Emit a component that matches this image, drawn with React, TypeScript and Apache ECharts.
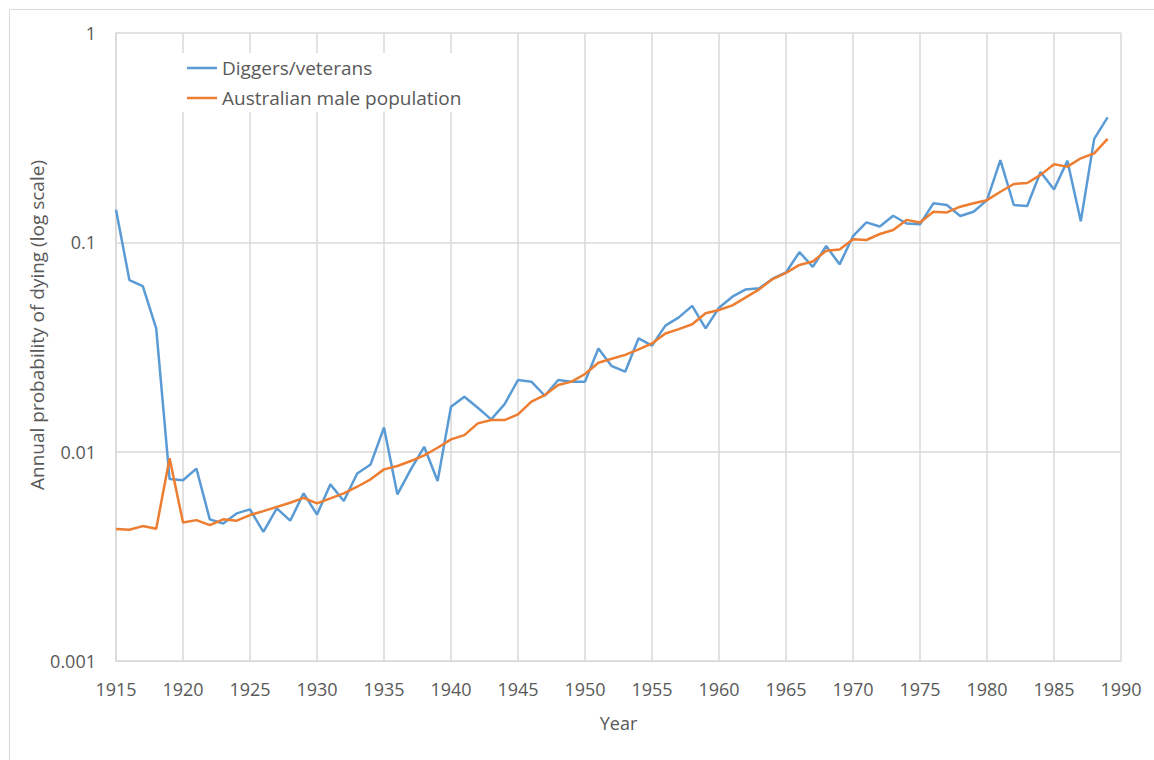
import React, { useEffect, useRef } from "react";
import * as echarts from "echarts";

const years = [
  1915, 1916, 1917, 1918, 1919, 1920, 1921, 1922, 1923, 1924,
  1925, 1926, 1927, 1928, 1929, 1930, 1931, 1932, 1933, 1934,
  1935, 1936, 1937, 1938, 1939, 1940, 1941, 1942, 1943, 1944,
  1945, 1946, 1947, 1948, 1949, 1950, 1951, 1952, 1953, 1954,
  1955, 1956, 1957, 1958, 1959, 1960, 1961, 1962, 1963, 1964,
  1965, 1966, 1967, 1968, 1969, 1970, 1971, 1972, 1973, 1974,
  1975, 1976, 1977, 1978, 1979, 1980, 1981, 1982, 1983, 1984,
  1985, 1986, 1987, 1988, 1989,
];

const diggers = [
  0.143, 0.066, 0.0618, 0.0388, 0.0074, 0.0073, 0.0083, 0.00475, 0.00454, 0.00507,
  0.0053, 0.00414, 0.00536, 0.00468, 0.00632, 0.00501, 0.00698, 0.00581, 0.00787, 0.00869,
  0.01305, 0.00625, 0.00823, 0.01055, 0.00724, 0.0164, 0.0183, 0.0162, 0.01427, 0.01687,
  0.022, 0.0216, 0.0185, 0.022, 0.0216, 0.0216, 0.0311, 0.0256, 0.0241, 0.0348,
  0.0321, 0.04, 0.0438, 0.0497, 0.0388, 0.0487, 0.055, 0.0596, 0.0603, 0.067,
  0.0718, 0.0898, 0.0764, 0.096, 0.0785, 0.107, 0.1245, 0.119, 0.134, 0.123,
  0.122, 0.1536, 0.1508, 0.1336, 0.14, 0.159, 0.247, 0.1508, 0.149, 0.217,
  0.179, 0.245, 0.126, 0.312, 0.395,
];

const population = [
  0.00427, 0.00424, 0.00441, 0.00428, 0.0093, 0.00459, 0.00471, 0.00446, 0.00475, 0.00468,
  0.00498, 0.0052, 0.00545, 0.0057, 0.00602, 0.00566, 0.00598, 0.00632, 0.0068, 0.00738,
  0.00823, 0.00854, 0.00902, 0.0096, 0.01044, 0.01145, 0.012, 0.01365, 0.01416, 0.01416,
  0.01507, 0.01733, 0.01864, 0.0208, 0.0216, 0.0235, 0.0266, 0.0278, 0.029, 0.0308,
  0.0329, 0.0367, 0.0385, 0.0406, 0.0458, 0.0475, 0.05, 0.0546, 0.0596, 0.0668,
  0.0715, 0.078, 0.081, 0.0912, 0.0925, 0.1035, 0.1026, 0.1096, 0.1145, 0.128,
  0.1245, 0.14, 0.139, 0.148, 0.1536, 0.159, 0.1745, 0.19, 0.192, 0.21,
  0.236, 0.23, 0.252, 0.266, 0.312,
];

const seriesNames = ["Diggers/veterans", "Australian male population"];
const xTitle = "Year";
const yTitle = "Annual probability of dying (log scale)";

const FONT = "'Open Sans', sans-serif";
const TEXT = "#595959";
const GRID = "#d9d9d9";

export default function App() {
  const ref = useRef<HTMLDivElement>(null);
  useEffect(() => {
    if (!ref.current) return;
    const chart = echarts.init(ref.current, undefined, { renderer: "svg" });
    chart.setOption({
      animation: false,
      backgroundColor: "#ffffff",
      textStyle: { fontFamily: FONT },
      graphic: [
        {
          type: "rect",
          shape: { x: 9.5, y: 9.5, width: 1160, height: 780 },
          style: { fill: "none", stroke: "#d9d9d9", lineWidth: 1 },
          silent: true,
          z: -10,
        },
        {
          type: "text",
          x: 37,
          y: 325,
          rotation: Math.PI / 2,
          style: {
            text: yTitle,
            fontFamily: FONT,
            fontSize: 19,
            fill: TEXT,
            align: "center",
            verticalAlign: "middle",
          },
          silent: true,
        },
      ],
      grid: { left: 116, right: 33, top: 33, bottom: 99, containLabel: false },
      legend: {
        orient: "vertical",
        left: 181,
        top: 53,
        itemWidth: 30,
        itemHeight: 2.5,
        itemGap: 10,
        padding: [5, 10, 4, 6],
        backgroundColor: "#ffffff",
        icon: "rect",
        textStyle: { fontFamily: FONT, fontSize: 19, lineHeight: 20, color: TEXT },
        data: seriesNames,
      },
      xAxis: {
        type: "value",
        min: 1915,
        max: 1990,
        interval: 5,
        name: xTitle,
        nameLocation: "middle",
        nameGap: 53,
        nameTextStyle: { fontFamily: FONT, fontSize: 18, color: TEXT },
        axisLine: { show: true, lineStyle: { color: GRID } },
        axisTick: { show: false },
        axisLabel: { fontFamily: FONT, fontSize: 18, color: TEXT, margin: 19, formatter: (v: number) => String(v) },
        splitLine: { show: true, lineStyle: { color: GRID, width: 1.5 } },
      },
      yAxis: {
        type: "log",
        logBase: 10,
        min: 0.001,
        max: 1,
        axisLine: { show: true, lineStyle: { color: GRID, width: 1.5 } },
        axisTick: { show: false },
        axisLabel: {
          fontFamily: FONT,
          fontSize: 18,
          color: TEXT,
          margin: 20,
          formatter: (v: number) => String(Number(v.toPrecision(3))),
        },
        splitLine: { show: true, lineStyle: { color: GRID, width: 1.5 } },
      },
      series: [
        {
          name: seriesNames[0],
          type: "line",
          data: years.map((y, i) => [y, diggers[i]]),
          showSymbol: false,
          symbol: "none",
          lineStyle: { color: "#5B9BD5", width: 2.5 },
          itemStyle: { color: "#5B9BD5" },
          z: 3,
        },
        {
          name: seriesNames[1],
          type: "line",
          data: years.map((y, i) => [y, population[i]]),
          showSymbol: false,
          symbol: "none",
          lineStyle: { color: "#ED7D31", width: 2.5 },
          itemStyle: { color: "#ED7D31" },
          z: 4,
        },
      ],
    });
    return () => chart.dispose();
  }, []);
  return (
    <div
      ref={ref}
      style={{ position: "fixed", left: 0, top: 0, width: 1154, height: 760, background: "#fff" }}
    />
  );
}
